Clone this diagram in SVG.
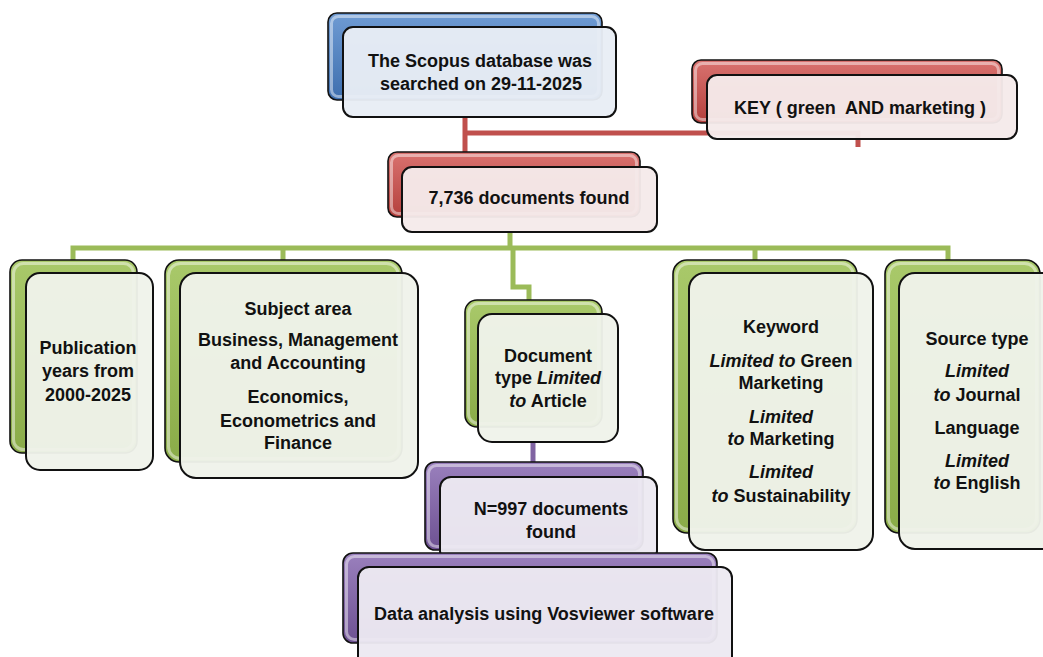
<svg xmlns="http://www.w3.org/2000/svg" width="1043" height="657" viewBox="0 0 1043 657">
<defs>
<linearGradient id="gBlue" x1="0" y1="0" x2="0" y2="1"><stop offset="0" stop-color="#6f9bd3"/><stop offset="1" stop-color="#3e6fae"/></linearGradient>
<linearGradient id="gRed" x1="0" y1="0" x2="0" y2="1"><stop offset="0" stop-color="#d9726f"/><stop offset="1" stop-color="#b4403d"/></linearGradient>
<linearGradient id="gGreen" x1="0" y1="0" x2="0" y2="1"><stop offset="0" stop-color="#a9c96a"/><stop offset="1" stop-color="#8aab48"/></linearGradient>
<linearGradient id="gPurple" x1="0" y1="0" x2="0" y2="1"><stop offset="0" stop-color="#9a80bd"/><stop offset="1" stop-color="#6d5192"/></linearGradient>
</defs>
<style>
.back{stroke:#111;stroke-width:1.6}
.hl{fill:none;stroke:#ffffff;stroke-opacity:0.45;stroke-width:3}
.front{stroke:#111;stroke-width:2}
.fb{fill:#e8edf5;fill-opacity:0.96}
.fr{fill:#f5eaea;fill-opacity:0.96}
.fg{fill:#eff2ea;fill-opacity:0.96}
.fp{fill:#ece9f1;fill-opacity:0.96}
text{font-family:"Liberation Sans",Arial,sans-serif;font-weight:bold;font-size:18px;fill:#111;text-anchor:middle}
.it{font-style:italic}
.cr{fill:none;stroke:#c0504d;stroke-width:5}
.cg{fill:none;stroke:#9bbb59;stroke-width:5}
.cp{fill:none;stroke:#8064a2;stroke-width:5}
</style>
<g id="connectors">
<path class="cr" d="M465,117 V152 M465,133 H858 V147"/>
<path class="cg" d="M510,232 V248 M73,260 V248 H948 V260 M283,248 V260 M755,248 V260 M513,248 V287 H529 V300"/>
<path class="cp" d="M533,442 V462"/>
</g>
<g id="scopus">
<rect class="back" x="328" y="13" width="274" height="87" rx="9" fill="url(#gBlue)"/>
<rect class="hl" x="331.5" y="16.5" width="267" height="80" rx="7"/>
<rect class="front fb" x="343" y="27" width="273" height="90" rx="10"/>
<text x="480" y="67">The Scopus database was</text>
<text x="481" y="90">searched on 29-11-2025</text>
</g>
<g id="key">
<rect class="back" x="692" y="60" width="310" height="63" rx="9" fill="url(#gRed)"/>
<rect class="hl" x="695.5" y="63.5" width="303" height="56" rx="7"/>
<rect class="front fr" x="707" y="75" width="310" height="64" rx="10"/>
<text x="860" y="114" xml:space="preserve">KEY ( green  AND marketing )</text>
</g>
<g id="found">
<rect class="back" x="388" y="152" width="252" height="65" rx="9" fill="url(#gRed)"/>
<rect class="hl" x="391.5" y="155.5" width="245" height="58" rx="7"/>
<rect class="front fr" x="402" y="167" width="255" height="65" rx="10"/>
<text x="529" y="204">7,736 documents found</text>
</g>
<g id="publication">
<rect class="back" x="10" y="260" width="127" height="193" rx="12" fill="url(#gGreen)"/>
<rect class="hl" x="13.5" y="263.5" width="120" height="186" rx="10"/>
<rect class="front fg" x="26" y="273" width="127" height="197" rx="14"/>
<text x="88" y="354">Publication</text>
<text x="88" y="377">years from</text>
<text x="88" y="401">2000-2025</text>
</g>
<g id="subject">
<rect class="back" x="165" y="260" width="237" height="202" rx="14" fill="url(#gGreen)"/>
<rect class="hl" x="168.5" y="263.5" width="230" height="195" rx="12"/>
<rect class="front fg" x="180" y="273" width="238" height="205" rx="16"/>
<text x="298" y="315">Subject area</text>
<text x="298" y="346">Business, Management</text>
<text x="298" y="369">and Accounting</text>
<text x="298" y="403">Economics,</text>
<text x="298" y="427">Econometrics and</text>
<text x="298" y="449">Finance</text>
</g>
<g id="doctype">
<rect class="back" x="465" y="300" width="137" height="127" rx="12" fill="url(#gGreen)"/>
<rect class="hl" x="468.5" y="303.5" width="130" height="120" rx="10"/>
<rect class="front fg" x="478" y="314" width="140" height="128" rx="14"/>
<text x="548" y="362">Document</text>
<text x="548" y="384">type <tspan class="it">Limited</tspan></text>
<text x="548" y="407"><tspan class="it">to</tspan> Article</text>
</g>
<g id="keyword">
<rect class="back" x="673" y="260" width="184" height="273" rx="14" fill="url(#gGreen)"/>
<rect class="hl" x="676.5" y="263.5" width="177" height="266" rx="12"/>
<rect class="front fg" x="689" y="273" width="184" height="277" rx="16"/>
<text x="781" y="333">Keyword</text>
<text x="781" y="367"><tspan class="it">Limited to</tspan> Green</text>
<text x="781" y="389">Marketing</text>
<text x="781" y="423" class="it">Limited</text>
<text x="781" y="445"><tspan class="it">to</tspan> Marketing</text>
<text x="781" y="478" class="it">Limited</text>
<text x="781" y="502"><tspan class="it">to</tspan> Sustainability</text>
</g>
<g id="source">
<rect class="back" x="885" y="260" width="155" height="273" rx="14" fill="url(#gGreen)"/>
<rect class="hl" x="888.5" y="263.5" width="148" height="266" rx="12"/>
<rect class="front fg" x="899" y="273" width="160" height="276" rx="16"/>
<text x="977" y="345">Source type</text>
<text x="977" y="377" class="it">Limited</text>
<text x="977" y="401"><tspan class="it">to</tspan> Journal</text>
<text x="977" y="434">Language</text>
<text x="977" y="467" class="it">Limited</text>
<text x="977" y="489"><tspan class="it">to</tspan> English</text>
</g>
<g id="n997">
<rect class="back" x="425" y="462" width="218" height="88" rx="10" fill="url(#gPurple)"/>
<rect class="hl" x="428.5" y="465.5" width="211" height="81" rx="8"/>
<rect class="front fp" x="440" y="477" width="217" height="85" rx="11"/>
<text x="551" y="515">N=997 documents</text>
<text x="551" y="538">found</text>
</g>
<g id="vosviewer">
<rect class="back" x="343" y="553" width="374" height="90" rx="10" fill="url(#gPurple)"/>
<rect class="hl" x="346.5" y="556.5" width="367" height="83" rx="8"/>
<rect class="front fp" x="358" y="567" width="374" height="100" rx="11"/>
<text x="544" y="620">Data analysis using Vosviewer software</text>
</g>
</svg>
